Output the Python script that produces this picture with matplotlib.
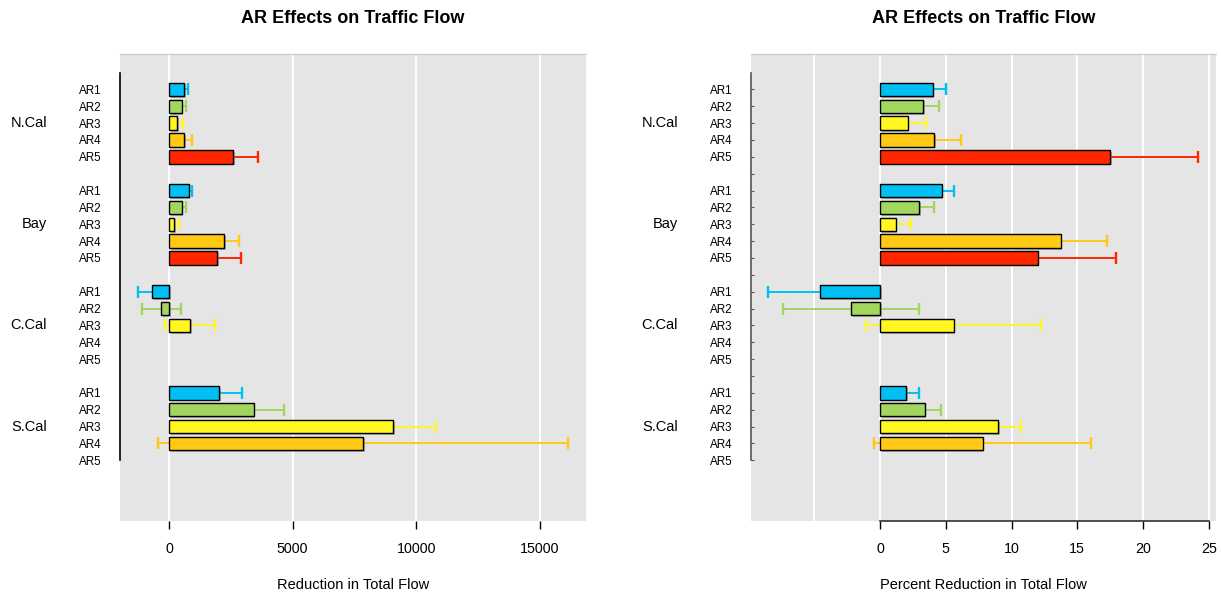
import numpy as np
import matplotlib.pyplot as plt
import matplotlib.patheffects as pe

plt.rcParams['font.family'] = ['Liberation Sans', 'DejaVu Sans']

regions = ['N.Cal', 'Bay', 'C.Cal', 'S.Cal']
ar_names = ['AR1', 'AR2', 'AR3', 'AR4', 'AR5']
ar_colors = ['#00BFF3', '#A3D65E', '#FFF71F', '#FFC914', '#FF2600']

nan = np.nan
# reduction in total flow (mean and half-width of interval), one row per region
flow_mean = [[600, 510, 340, 620, 2600],
             [800, 510, 215, 2240, 1960],
             [-675, -320, 860, nan, nan],
             [2030, 3420, 9070, 7850, nan]]
flow_err = [[180, 160, 215, 320, 985],
            [150, 175, 190, 580, 950],
            [590, 790, 1010, nan, nan],
            [940, 1240, 1725, 8300, nan]]

# percent reduction in total flow
pct_mean = [[4.0, 3.3, 2.1, 4.1, 17.5],
            [4.7, 3.0, 1.2, 13.75, 12.0],
            [-4.6, -2.2, 5.6, nan, nan],
            [2.0, 3.4, 9.0, 7.8, nan]]
pct_err = [[1.05, 1.15, 1.4, 2.05, 6.7],
           [0.95, 1.1, 1.15, 3.5, 5.95],
           [3.9, 5.2, 6.65, nan, nan],
           [0.97, 1.24, 1.73, 8.25, nan]]

flow_ticks = [0, 5000, 10000, 15000]
flow_grid = [0, 5000, 10000, 15000]
pct_ticks = [0, 5, 10, 15, 20, 25]
pct_grid = [-5, 0, 5, 10, 15, 20, 25]

title = 'AR Effects on Traffic Flow'


def draw_panel(ax, means, errs, xlim, ticks, grid, xlabel, boxed):
    ax.set_facecolor('#E5E5E5')
    for g in grid:
        ax.axvline(g, color='white', lw=1.4, zorder=0)

    for gi, region in enumerate(regions):
        for ai in range(len(ar_names)):
            y = gi * 6 + ai
            m = means[gi][ai]
            e = errs[gi][ai]
            if not np.isnan(m):
                # interval first, bar on top hides the inner part
                ax.errorbar(m, y, xerr=e, fmt='none', ecolor=ar_colors[ai],
                            elinewidth=1.4, capsize=4, capthick=1.7, zorder=2)
                ax.barh(y, m, height=0.8, color=ar_colors[ai], edgecolor='black',
                        linewidth=1.0, zorder=5,
                        path_effects=[pe.SimplePatchShadow(offset=(1.2, -1.2), shadow_rgbFace='#777777', alpha=0.5),
                                      pe.Normal()])
        # region name beside the middle row
        ax.annotate(region, xy=(0, gi * 6 + 2), xycoords=('axes fraction', 'data'),
                    xytext=(-73 * 0.72, 0), textcoords='offset points',
                    ha='right', va='center', fontsize=10.5)

    all_rows = list(range(0, 23))
    row_labels = ['' if r % 6 == 5 else ar_names[r % 6] for r in all_rows]
    ax.set_yticks(all_rows)
    ax.set_yticklabels(row_labels, fontsize=8.4)
    if boxed:
        ax.tick_params(axis='y', direction='in', length=2, width=0.8, color='#555555', pad=13)
    else:
        ax.tick_params(axis='y', length=0, pad=13)

    ax.set_xlim(*xlim)
    ax.set_ylim(25.6, -2.1)
    ax.set_xticks(ticks)
    ax.set_xticklabels([str(t) for t in ticks], fontsize=10.3)
    ax.tick_params(axis='x', direction='out', length=6, width=1, pad=9)

    for side in ['top', 'right', 'bottom', 'left']:
        ax.spines[side].set_visible(False)
    ax.spines['top'].set_visible(True)
    ax.spines['top'].set_color('#C8C8C8')
    ax.spines['left'].set_visible(True)
    ax.spines['left'].set_bounds(-1, 22)
    ax.spines['left'].set_linewidth(1.2)
    if boxed:
        ax.spines['left'].set_color('#555555')
        ax.spines['bottom'].set_visible(True)
        ax.spines['bottom'].set_bounds(0, 25)
        ax.spines['bottom'].set_linewidth(1.2)
        ax.spines['bottom'].set_color('#333333')
    else:
        ax.spines['left'].set_color('black')

    ax.text(0.5, 1.075, title, transform=ax.transAxes, ha='center', va='center',
            fontsize=13, fontweight='bold')
    ax.text(0.5, -0.137, xlabel, transform=ax.transAxes, ha='center', va='center',
            fontsize=10.5)


fig = plt.figure(figsize=(12.21, 5.92), dpi=100)
ax1 = fig.add_axes([120 / 1221, 71 / 592, 466 / 1221, 467 / 592])
ax2 = fig.add_axes([751 / 1221, 71 / 592, 465 / 1221, 467 / 592])

draw_panel(ax1, flow_mean, flow_err, (-1981, 16860), flow_ticks, flow_grid,
           'Reduction in Total Flow', False)
draw_panel(ax2, pct_mean, pct_err, (-9.81, 25.55), pct_ticks, pct_grid,
           'Percent Reduction in Total Flow', True)

fig.savefig('out.png', dpi=100)
